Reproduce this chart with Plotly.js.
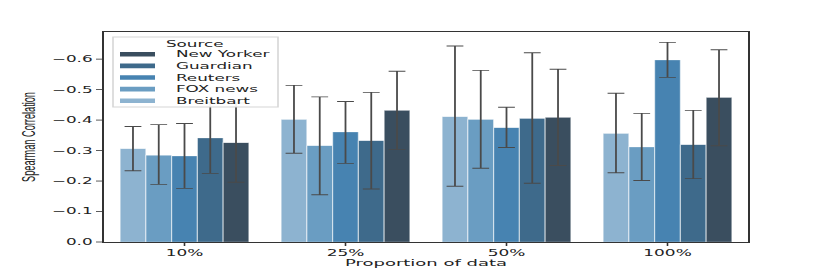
<!DOCTYPE html>
<html>
<head>
<meta charset="utf-8">
<script src="https://cdn.plot.ly/plotly-3.0.1.min.js"></script>
<style>
  html, body { margin: 0; padding: 0; background: #fff; overflow: hidden; }
  #wrap { width: 830px; height: 272px; overflow: hidden; }
  #chart { width: 415px; height: 272px; transform: scaleX(2); transform-origin: 0 0; }
</style>
</head>
<body>
<div id="wrap"><div id="chart"></div></div>
<script>
const categories = ['10%', '25%', '50%', '100%'];
const sources = ['Breitbart', 'FOX news', 'Reuters', 'Guardian', 'New Yorker'];
const colors = ['#8db3d0', '#6a9dc2', '#4783b1', '#3e6a8b', '#3a4e5f'];

const breitbartMean = [0.306, 0.402, 0.411, 0.356];
const breitbartLow  = [0.234, 0.291, 0.183, 0.227];
const breitbartHigh = [0.379, 0.514, 0.643, 0.488];

const foxMean = [0.285, 0.316, 0.402, 0.312];
const foxLow  = [0.189, 0.155, 0.242, 0.202];
const foxHigh = [0.385, 0.476, 0.563, 0.422];

const reutersMean = [0.282, 0.361, 0.375, 0.597];
const reutersLow  = [0.176, 0.258, 0.310, 0.540];
const reutersHigh = [0.389, 0.461, 0.442, 0.655];

const guardianMean = [0.341, 0.332, 0.405, 0.319];
const guardianLow  = [0.225, 0.174, 0.193, 0.208];
const guardianHigh = [0.457, 0.491, 0.621, 0.432];

const newYorkerMean = [0.326, 0.432, 0.409, 0.474];
const newYorkerLow  = [0.196, 0.304, 0.251, 0.316];
const newYorkerHigh = [0.456, 0.560, 0.567, 0.631];

const yTickVals = [0, 0.1, 0.2, 0.3, 0.4, 0.5, 0.6];
const yTickText = yTickVals.map(v => v === 0 ? '0.0' : '\u2212' + v.toFixed(1));

const means = [breitbartMean, foxMean, reutersMean, guardianMean, newYorkerMean];
const lows = [breitbartLow, foxLow, reutersLow, guardianLow, newYorkerLow];
const highs = [breitbartHigh, foxHigh, reutersHigh, guardianHigh, newYorkerHigh];

const FONT = 'DejaVu Sans';
const W = 415, H = 272;
const M = {l: 52, r: 41, t: 32, b: 30};
const PW = W - M.l - M.r, PH = H - M.t - M.b;
const px = x => (x - M.l) / PW;
const py = y => (H - M.b - y) / PH;

const traces = sources.map((name, i) => ({
  type: 'bar',
  name: name,
  x: categories,
  y: means[i],
  marker: {color: colors[i], line: {color: 'rgba(255,255,255,0.55)', width: 0.6}},
  error_y: {
    type: 'data',
    symmetric: false,
    array: highs[i].map((h, k) => h - means[i][k]),
    arrayminus: lows[i].map((l, k) => means[i][k] - l),
    color: '#4a4a4a',
    thickness: 0.9,
    width: 4.2
  },
  showlegend: false,
  hoverinfo: 'skip'
}));

// manual legend (Source), listed top to bottom in reverse trace order
const shapes = [{
  type: 'rect', xref: 'paper', yref: 'paper', layer: 'above',
  x0: px(56.5), x1: px(139), y0: py(107), y1: py(37),
  fillcolor: 'rgba(255,255,255,0.92)', line: {color: '#d6d6d6', width: 0.8}
}];
const annotations = [{
  xref: 'paper', yref: 'paper', x: px(97.75), y: py(43.5),
  xanchor: 'center', yanchor: 'middle', showarrow: false,
  text: 'Source', font: {family: FONT, size: 8.4, color: '#222'}
}];
const order = sources.map((s, i) => i).reverse();
order.forEach((idx, row) => {
  const cy = 54.3 + row * 11.6;
  shapes.push({
    type: 'rect', xref: 'paper', yref: 'paper', layer: 'above',
    x0: px(60), x1: px(77.5), y0: py(cy + 2.3), y1: py(cy - 2.3),
    fillcolor: colors[idx], line: {width: 0}
  });
  annotations.push({
    xref: 'paper', yref: 'paper', x: px(85.8), y: py(cy),
    xanchor: 'left', yanchor: 'middle', showarrow: false,
    text: sources[idx], font: {family: FONT, size: 8.4, color: '#222'}
  });
});

const layout = {
  width: W, height: H,
  margin: M,
  paper_bgcolor: '#fff', plot_bgcolor: '#fff',
  barmode: 'group', bargap: 0.2, bargroupgap: 0,
  font: {family: FONT, size: 8.5, color: '#222'},
  showlegend: false,
  xaxis: {
    type: 'category',
    range: [-0.5, 3.5],
    showgrid: false, zeroline: false,
    showline: true, linecolor: '#333', linewidth: 1, mirror: true,
    ticks: 'outside', ticklen: 3, tickwidth: 0.8, tickcolor: '#333',
    tickfont: {family: FONT, size: 8.5, color: '#222'},
    title: {text: 'Proportion of data', font: {family: FONT, size: 9, color: '#222'}, standoff: 1}
  },
  yaxis: {
    range: [0, 0.689],
    tickvals: yTickVals, ticktext: yTickText,
    showgrid: false, zeroline: false,
    showline: true, linecolor: '#333', linewidth: 1, mirror: true,
    ticks: 'outside', ticklen: 3, tickwidth: 0.8, tickcolor: '#333',
    tickfont: {family: FONT, size: 8.4, color: '#222'},
    title: {text: 'Spearman Correlation', font: {family: 'Liberation Sans', size: 9.2, color: '#222'}, standoff: 6}
  },
  shapes: shapes,
  annotations: annotations
};

Plotly.newPlot('chart', traces, layout, {displayModeBar: false, staticPlot: true});
</script>
</body>
</html>
